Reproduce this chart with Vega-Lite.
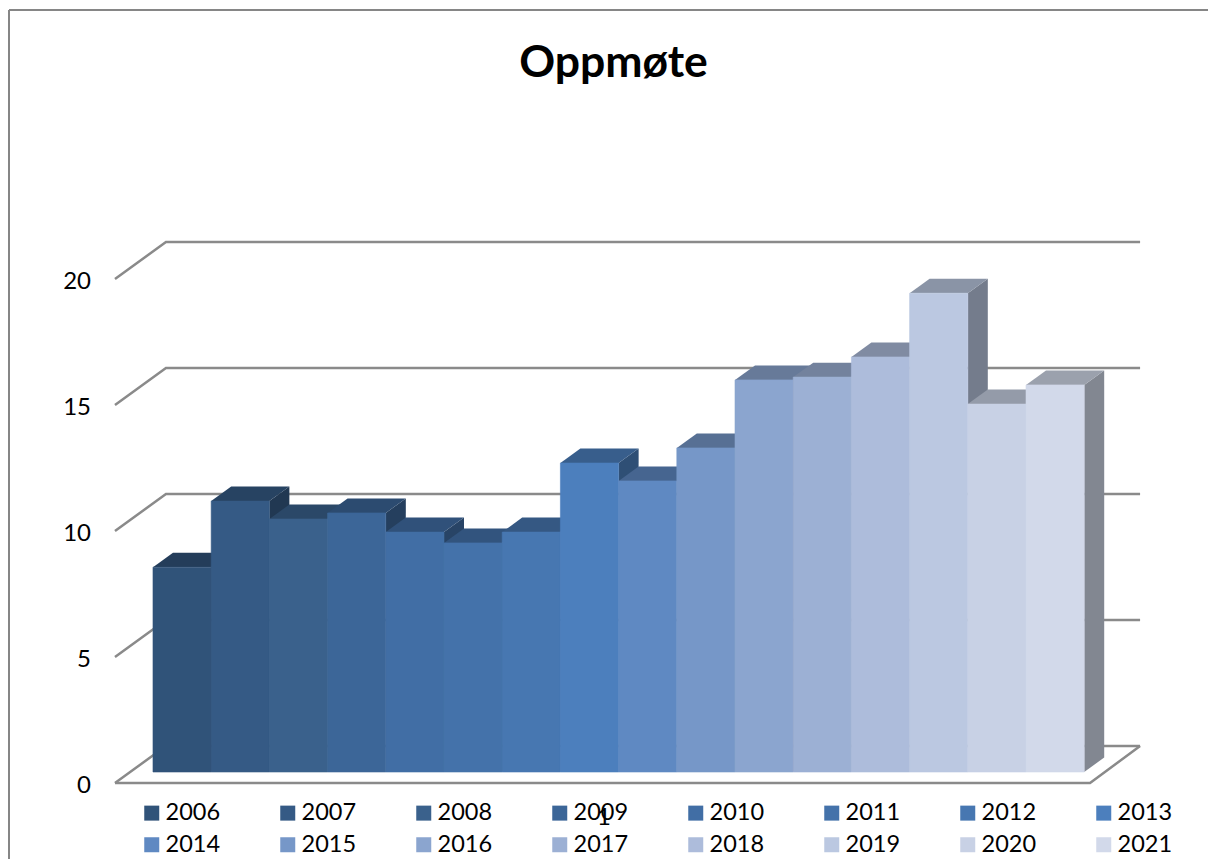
{
"$schema":"https://vega.github.io/schema/vega-lite/v6.json",
"width":1199,"height":849,
"autosize":{"type":"none"},
"padding":{"left":9,"top":10,"right":0,"bottom":0},
"background":"white",
"title":{"text":"Oppmøte","anchor":"middle","offset":-77,"dx":5,"fontSize":44.5,"fontWeight":"bold","font":"Lato","color":"#000000"},
"config":{"view":{"stroke":null}},
"data":{"values":[
{"year":"2006","value":8.13},{"year":"2007","value":10.75},{"year":"2008","value":10.04},{"year":"2009","value":10.28},
{"year":"2010","value":9.52},{"year":"2011","value":9.09},{"year":"2012","value":9.52},{"year":"2013","value":12.26},
{"year":"2014","value":11.55},{"year":"2015","value":12.86},{"year":"2016","value":15.56},{"year":"2017","value":15.67},
{"year":"2018","value":16.47},{"year":"2019","value":19.0},{"year":"2020","value":14.6},{"year":"2021","value":15.36}
]},
"resolve":{"scale":{"fill":"independent"}},
"layer":[
{"data":{"values":[{"edge":"top"}]},"mark":{"type":"rule","stroke":"#868686","strokeWidth":2},
 "encoding":{"y":{"datum":30.238,"type":"quantitative","scale":{"domain":[-3.452,30.238],"nice":false,"zero":false},"axis":null}}},
{"data":{"values":[{"edge":"left"}]},"mark":{"type":"rule","stroke":"#868686","strokeWidth":2},
 "encoding":{"x":{"datum":-2.474,"type":"quantitative","scale":{"domain":[-2.474,18.127],"nice":false,"zero":false},"axis":null}}},
{"data":{"values":[{"tick":0},{"tick":5},{"tick":10},{"tick":15},{"tick":20}]},
 "transform":[{"calculate":"[0,1,2]","as":"c"},{"flatten":["c"]},
  {"calculate":"[-0.653,0.223,16.96][datum.c]","as":"px"},
  {"calculate":"datum.tick+(datum.c==0?-0.4365:1.032)","as":"py"}],
 "mark":{"type":"line","stroke":"#8a8a8a","strokeWidth":2.5,"interpolate":"linear"},
 "encoding":{
  "x":{"field":"px","type":"quantitative","scale":{"domain":[-2.474,18.127],"nice":false,"zero":false},"axis":null},
  "y":{"field":"py","type":"quantitative","scale":{"domain":[-3.452,30.238],"nice":false,"zero":false},"axis":null},
  "detail":{"field":"tick","type":"nominal"},
  "order":{"field":"c","type":"quantitative"}}},
{"data":{"values":[{"floor":0}]},
 "transform":[{"calculate":"[0,1,2]","as":"c"},{"flatten":["c"]},
  {"calculate":"[-0.653,16.1,16.96][datum.c]","as":"px"},
  {"calculate":"[-0.4365,-0.4365,1.032][datum.c]","as":"py"}],
 "mark":{"type":"line","stroke":"#8a8a8a","strokeWidth":2.5,"interpolate":"linear"},
 "encoding":{
  "x":{"field":"px","type":"quantitative","scale":{"domain":[-2.474,18.127],"nice":false,"zero":false},"axis":null},
  "y":{"field":"py","type":"quantitative","scale":{"domain":[-3.452,30.238],"nice":false,"zero":false},"axis":null},
  "order":{"field":"c","type":"quantitative"}}},
{"data":{"values":[{"tick":0},{"tick":5},{"tick":10},{"tick":15},{"tick":20}]},
 "transform":[{"calculate":"datum.tick-0.4365","as":"py"},{"calculate":"-1.065","as":"px"}],
 "mark":{"type":"text","align":"right","baseline":"middle","dy":3,"font":"Lato","fontSize":24,"color":"#000000"},
 "encoding":{
  "x":{"field":"px","type":"quantitative","scale":{"domain":[-2.474,18.127],"nice":false,"zero":false},"axis":null},
  "y":{"field":"py","type":"quantitative","scale":{"domain":[-3.452,30.238],"nice":false,"zero":false},"axis":null},
  "text":{"field":"tick","type":"nominal"}}},
{"transform":[{"calculate":"toNumber(datum.year)-2006","as":"i"},{"calculate":"[0,1]","as":"c"},{"flatten":["c"]},
  {"calculate":"datum.i+1+0.3436*datum.c","as":"px"},
  {"calculate":"0.575*datum.c","as":"pb"},
  {"calculate":"datum.value+0.575*datum.c","as":"pt"}],
 "mark":{"type":"area","interpolate":"linear"},
 "encoding":{
  "x":{"field":"px","type":"quantitative","scale":{"domain":[-2.474,18.127],"nice":false,"zero":false},"axis":null},
  "y":{"field":"pb","type":"quantitative","stack":null,"scale":{"domain":[-3.452,30.238],"nice":false,"zero":false},"axis":null},
  "y2":{"field":"pt"},
  "fill":{"field":"year","type":"nominal","legend":null,"scale":{"range":["#1e334b","#213852","#243c57","#253f5e","#284466","#2a4769","#2c4a6e","#2f4f75","#3b5578","#495e7c","#566680","#616d83","#6b7588","#747c8c","#7c828e","#828791"]}}}},
{"transform":[{"calculate":"toNumber(datum.year)-2006","as":"i"},{"calculate":"[0,1,2,3]","as":"c"},{"flatten":["c"]},
  {"calculate":"datum.i+[0,0.3436,1,1.3436][datum.c]","as":"px"},
  {"calculate":"datum.value+[0,0,0,0.575][datum.c]","as":"pb"},
  {"calculate":"datum.value+[0,0.575,0.575,0.575][datum.c]","as":"pt"}],
 "mark":{"type":"area","interpolate":"linear"},
 "encoding":{
  "x":{"field":"px","type":"quantitative","scale":{"domain":[-2.474,18.127],"nice":false,"zero":false},"axis":null},
  "y":{"field":"pb","type":"quantitative","stack":null,"scale":{"domain":[-3.452,30.238],"nice":false,"zero":false},"axis":null},
  "y2":{"field":"pt"},
  "fill":{"field":"year","type":"nominal","legend":null,"scale":{"range":["#243d5a","#274362","#2b4868","#2c4b70","#30517a","#32547e","#355883","#385e8c","#466590","#577094","#677a99","#73829d","#808ba2","#8a94a6","#949ba9","#9ba1ad"]}}}},
{"transform":[{"calculate":"toNumber(datum.year)-2006","as":"i"},{"calculate":"datum.i+1","as":"j"},{"calculate":"0","as":"base"}],
 "mark":{"type":"rect","strokeWidth":0.6},
 "encoding":{
  "x":{"field":"i","type":"quantitative","scale":{"domain":[-2.474,18.127],"nice":false,"zero":false},"axis":null},
  "x2":{"field":"j"},
  "y":{"field":"base","type":"quantitative","scale":{"domain":[-3.452,30.238],"nice":false,"zero":false},"axis":null},
  "y2":{"field":"value"},
  "stroke":{"field":"year","type":"nominal","legend":null,
   "scale":{"range":["#305379","#355a85","#3a618c","#3c6698","#416ea5","#4472aa","#4777b1","#4c7fbd","#5f89c2","#7697c8","#8ba5cf","#9cb0d4","#adbcdb","#bbc8e1","#c8d1e5","#d2d9ea"]}},
  "fill":{"field":"year","type":"nominal",
   "scale":{"range":["#305379","#355a85","#3a618c","#3c6698","#416ea5","#4472aa","#4777b1","#4c7fbd","#5f89c2","#7697c8","#8ba5cf","#9cb0d4","#adbcdb","#bbc8e1","#c8d1e5","#d2d9ea"]},
   "legend":{"title":null,"orient":"none","direction":"horizontal","legendX":131,"legendY":791,"columns":8,"gridAlign":"all","padding":0,
    "symbolType":"square","symbolSize":225,"symbolStrokeWidth":0,"labelFont":"Lato","labelFontSize":23.5,"labelColor":"#000000","labelOffset":2,"columnPadding":55,"rowPadding":7}}}},
{"data":{"values":[{"label":"1"}]},
 "transform":[{"calculate":"7.75","as":"px"},{"calculate":"-1.825","as":"py"}],
 "mark":{"type":"text","align":"center","baseline":"middle","font":"Lato","fontSize":24,"color":"#000000"},
 "encoding":{
  "x":{"field":"px","type":"quantitative","scale":{"domain":[-2.474,18.127],"nice":false,"zero":false},"axis":null},
  "y":{"field":"py","type":"quantitative","scale":{"domain":[-3.452,30.238],"nice":false,"zero":false},"axis":null},
  "text":{"field":"label","type":"nominal"}}}
]
}
